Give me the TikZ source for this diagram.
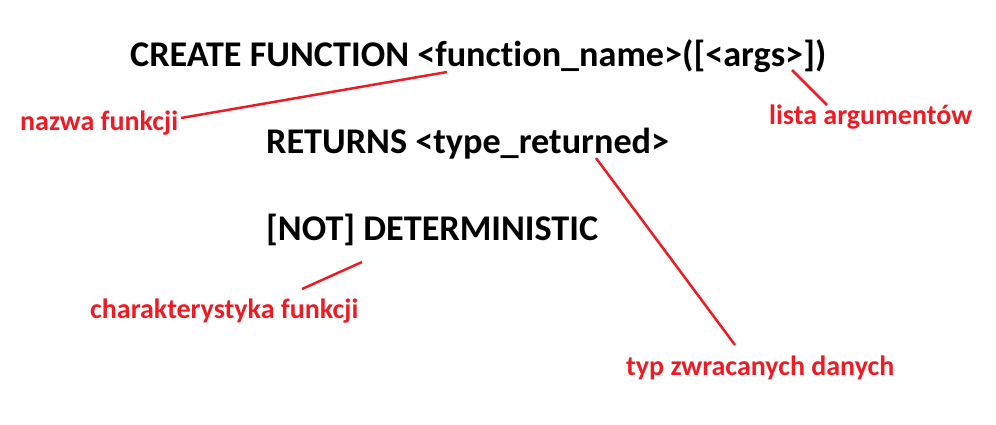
\documentclass[tikz,border=0pt]{standalone}
\usepackage{fontspec}
\setmainfont[Ligatures={NoCommon}]{Carlito}
\usetikzlibrary{positioning}
\definecolor{paintred}{RGB}{237,28,36}

\begin{document}
\begin{tikzpicture}[x=1pt, y=-1pt,
  code/.style={font=\bfseries\fontsize{36.2}{40}\selectfont, inner sep=0pt, anchor=base west},
  note/.style={text=paintred, font=\bfseries\fontsize{28}{32}\selectfont, inner sep=0pt, anchor=base west},
  pointer/.style={draw=paintred, line width=2.5pt}]
  \useasboundingbox (0,0) rectangle (996,424);

  \node[code] (create) at (130,66) {CREATE FUNCTION <function\_name>([<args>])};
  \node[code] (returns) at (266,153) {RETURNS <type\_returned>};
  \node[code] (determ) at (266,240) {[NOT] DETERMINISTIC};

  \node[note] (nazwa) at (20,130) {nazwa funkcji};
  \node[note] (lista) at (769,124) {lista argumentów};
  \node[note] (charakt) at (90,318) {charakterystyka funkcji};
  \node[note] (typ) at (626,375) {typ zwracanych danych};

  \coordinate (fname) at (447,72);
  \coordinate (args) at (792,70);
  \coordinate (rtype) at (596,158);
  \coordinate (nd) at (362,262);
  \coordinate (nazwa end) at (181,118);
  \coordinate (lista top) at (827,105);
  \coordinate (charakt top) at (302,289);
  \coordinate (typ top) at (735,345);

  \draw[pointer] (nazwa end) -- (fname);
  \draw[pointer] (lista top) -- (args);
  \draw[pointer] (typ top) -- (rtype);
  \draw[pointer] (charakt top) -- (nd);
\end{tikzpicture}
\end{document}
